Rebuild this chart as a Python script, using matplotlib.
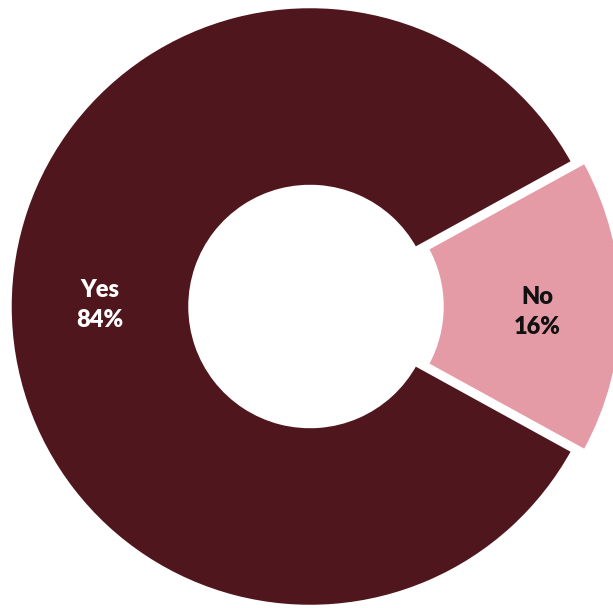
import matplotlib.pyplot as plt

# Survey answers
labels = ['No', 'Yes']
shares = [16, 84]
colors = ['#E59BA5', '#50161D']
text_colors = ['#111111', 'white']

fig = plt.figure(figsize=(6.13, 6.08), dpi=100)
ax = fig.add_axes([0, 0, 1, 1])

wedges, _ = ax.pie(
    shares,
    colors=colors,
    radius=300,
    center=(310, 301.5),
    startangle=-28.8,
    counterclock=True,
    explode=[12, 0],
    wedgeprops=dict(width=180, edgecolor='white', linewidth=2.5),
    frame=True,
)

# Labels placed inside each ring segment
label_pos = [(537, 312), (100, 305)]
for name, val, (x, y), tc in zip(labels, shares, label_pos, text_colors):
    ax.text(x, 608 - y, f'{name}\n{val}%', ha='center', va='center',
            color=tc, fontsize=17, fontweight='heavy', family='Lato',
            linespacing=1.4)

ax.set_xlim(0, 613)
ax.set_ylim(0, 608)
ax.set_aspect('equal')
ax.axis('off')

fig.savefig('out.png', dpi=100)
